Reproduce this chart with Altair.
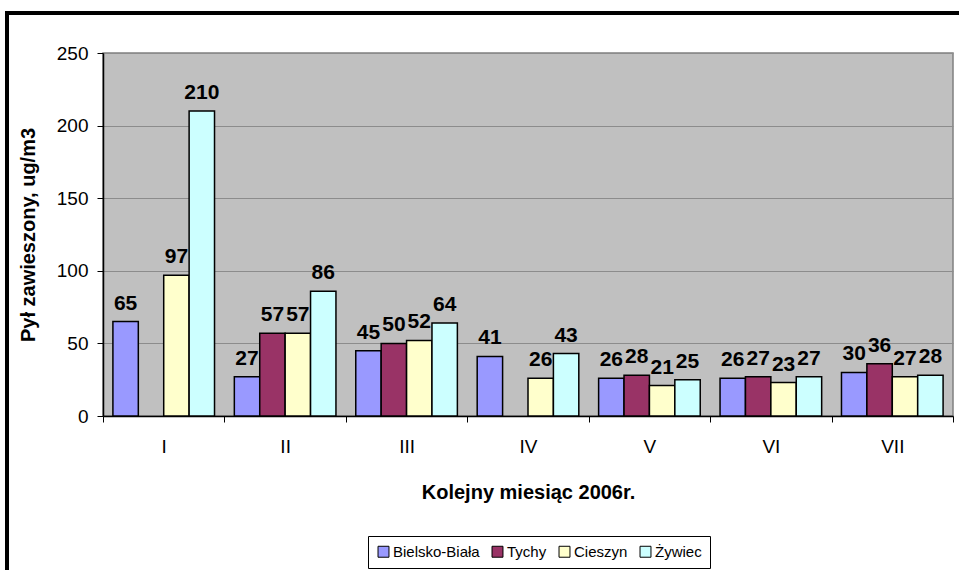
import altair as alt
import pandas as pd

# Monthly suspended dust readings (ug/m3), 2006
months = ["I", "II", "III", "IV", "V", "VI", "VII"]
cities = ["Bielsko-Biała", "Tychy", "Cieszyn", "Żywiec"]
bielsko_biala = [65, 27, 45, 41, 26, 26, 30]
tychy = [None, 57, 50, None, 28, 27, 36]
cieszyn = [97, 57, 52, 26, 21, 23, 27]
zywiec = [210, 86, 64, 43, 25, 27, 28]
city_colors = ["#9999FF", "#993366", "#FFFFCC", "#CCFFFF"]

rows = []
for city, series in zip(cities, [bielsko_biala, tychy, cieszyn, zywiec]):
    for month, value in zip(months, series):
        if value is not None:
            rows.append({"month": month, "city": city, "value": value})
df = pd.DataFrame(rows)

FONT = "Liberation Sans"

x_enc = alt.X(
    "month:N",
    sort=months,
    scale=alt.Scale(paddingInner=0, paddingOuter=0),
    axis=alt.Axis(
        title="Kolejny miesiąc 2006r.",
        labelAngle=0,
        labelFontSize=19,
        labelPadding=15,
        labelColor="black",
        tickBand="extent",
        tickSize=6,
        tickColor="black",
        domainColor="black",
        domainWidth=1.5,
        titleFontSize=20,
        titleFontWeight="bold",
        titlePadding=26,
        titleColor="black",
        grid=False,
    ),
)
xoff_enc = alt.XOffset(
    "city:N",
    sort=cities,
    scale=alt.Scale(domain=cities, paddingInner=0, paddingOuter=0.39),
)
y_enc = alt.Y(
    "value:Q",
    scale=alt.Scale(domain=[0, 250], nice=False),
    axis=alt.Axis(
        title="Pył zawieszony, ug/m3",
        values=[0, 50, 100, 150, 200, 250],
        labelFontSize=19,
        labelPadding=9,
        labelColor="black",
        tickSize=6,
        tickColor="black",
        domainColor="black",
        domainWidth=1.5,
        gridColor="#8c8c8c",
        gridWidth=1,
        titleFontSize=20,
        titleFontWeight="bold",
        titlePadding=18,
        titleColor="black",
    ),
)

base = alt.Chart(df)

bars = base.mark_bar(stroke="black", strokeWidth=1.5).encode(
    x=x_enc,
    xOffset=xoff_enc,
    y=y_enc,
    fill=alt.Fill(
        "city:N",
        sort=cities,
        scale=alt.Scale(domain=cities, range=city_colors),
        legend=alt.Legend(
            title=None,
            orient="none",
            legendX=265,
            legendY=483,
            direction="horizontal",
            symbolType="square",
            symbolSize=120,
            symbolStrokeColor="black",
            symbolStrokeWidth=1,
            labelFontSize=15,
            labelFont=FONT,
            labelColor="black",
            columnPadding=10,
            labelOffset=2,
            strokeColor="black",
            padding=8,
            fillColor="white",
        ),
    ),
)

labels = base.mark_text(
    font=FONT,
    fontSize=21,
    fontWeight="bold",
    baseline="bottom",
    dy=-8,
    color="black",
).encode(
    x=alt.X("month:N", sort=months),
    xOffset=alt.XOffset("city:N", sort=cities),
    y="value:Q",
    text="value:Q",
)

frame = alt.Chart(df).mark_rect(
    fill=None, stroke="black", strokeWidth=3
).encode(
    x=alt.value(-96), x2=alt.value(870), y=alt.value(-40), y2=alt.value(540)
)

chart = (
    alt.layer(bars, labels, frame)
    .properties(
        width=850,
        height=363,
        autosize=alt.AutoSizeParams(type="none"),
        padding={"left": 103, "top": 53, "right": 6, "bottom": 154},
        background="white",
    )
    .configure_view(fill="#C0C0C0", stroke="#808080", strokeWidth=1.5)
    .configure_axis(labelFont=FONT, titleFont=FONT)
)

chart.save("out.html", embed_options={"renderer": "svg", "actions": False})
